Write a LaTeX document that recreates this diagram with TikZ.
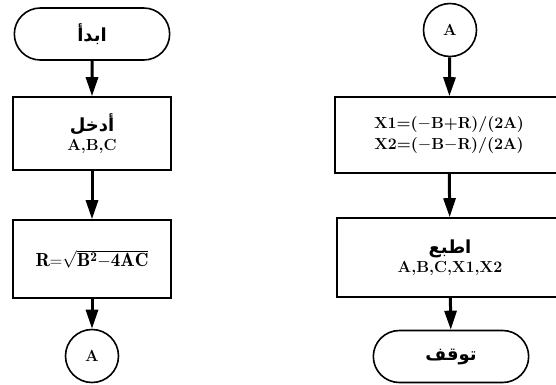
\documentclass[tikz,border=0pt]{standalone}
\usepackage{amsmath}
\usepackage{fontspec}
\usepackage{tikz}
\usetikzlibrary{positioning,arrows.meta,shapes.misc}
\TeXXeTstate=1
\newfontfamily\arabicfont[Script=Arabic]{DejaVu Sans}
\newcommand{\artext}[1]{{\arabicfont\bfseries\fontsize{18}{20}\selectfont\beginR #1\endR}}
\newcommand{\rootformula}{{\fontsize{19}{21}\selectfont$\mathbf{R{=}}\sqrt{\mathbf{B^{2}{-}4AC}}$}}

\begin{document}
\begin{tikzpicture}[
    x=1pt,
    y=-1pt,
    flow/.style={-{Triangle[length=19pt,width=12pt]}, line width=3pt},
    font=\bfseries\fontsize{16}{18}\selectfont
]

\tikzstyle{terminal}=[
    rounded rectangle,
    draw,
    line width=1.6pt,
    minimum width=162pt,
    minimum height=52pt
]
\tikzstyle{procbox}=[
    rectangle,
    draw,
    line width=1.6pt,
    align=center,
    inner sep=2pt
]
\tikzstyle{connector}=[
    circle,
    draw,
    line width=1.6pt,
    minimum size=53pt,
    inner sep=0pt
]

\useasboundingbox (0,0) rectangle (556,384);

% left column
\node[terminal] (start) at (92,34) {\artext{ابدأ}};
\node[procbox, minimum width=158pt, minimum height=73pt] (input) at (92,133.5) {\artext{أدخل}\\[1pt] A,B,C};
\node[procbox, minimum width=158pt, minimum height=78pt] (calc) at (92,259) {\rootformula};
\node[connector] (conA) at (92,356) {A};

% right column
\node[connector] (conB) at (450,30) {A};
\node[procbox, minimum width=228pt, minimum height=76pt] (roots) at (449,135) {X1=($-$B+R)/(2A)\\[3pt] X2=($-$B$-$R)/(2A)};
\node[procbox, minimum width=226pt, minimum height=79pt] (output) at (450,257.5) {\artext{اطبع}\\[1pt] A,B,C,X1,X2};
\node[terminal] (stop) at (451,356.5) {\artext{توقف}};

\draw[flow] (start) -- (input);
\draw[flow] (input) -- (calc);
\draw[flow] (calc) -- (conA);

\draw[flow] (conB) -- (roots);
\draw[flow] (roots) -- (output);
\draw[flow] (output) -- (stop);

\end{tikzpicture}
\end{document}
